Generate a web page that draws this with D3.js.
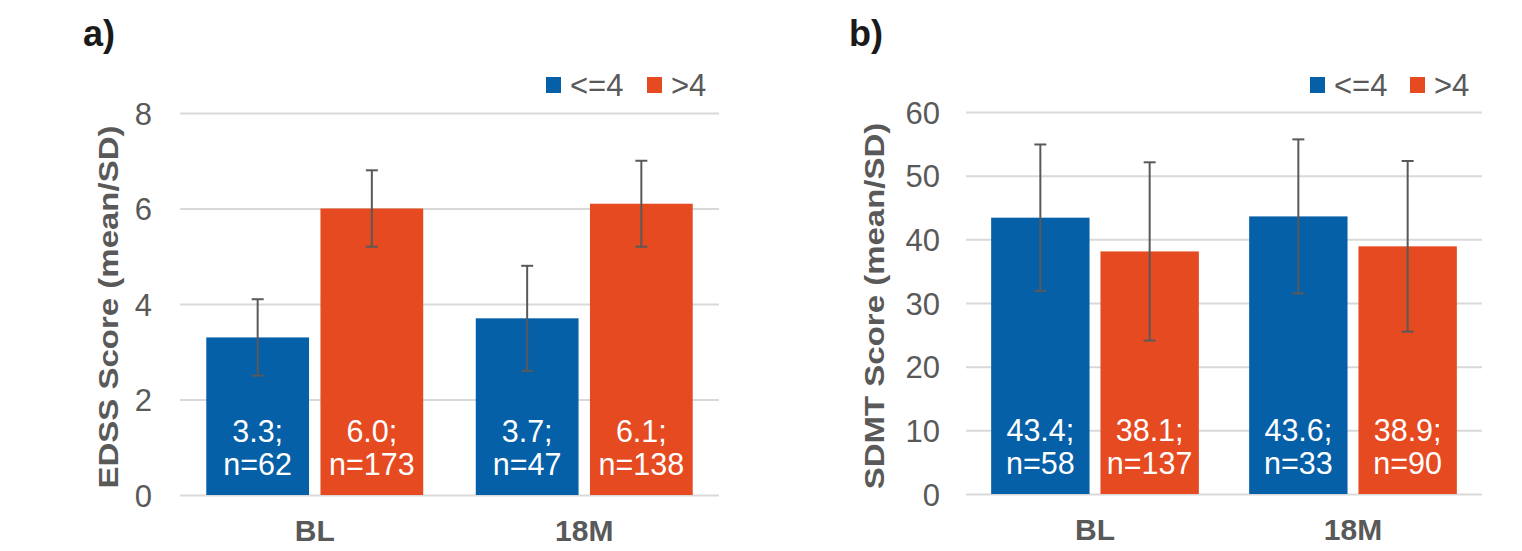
<!DOCTYPE html>
<html>
<head>
<meta charset="utf-8">
<script src="https://cdn.jsdelivr.net/npm/d3@7"></script>
<style>
  html, body { margin: 0; padding: 0; background: #fff; }
  svg { display: block; }
</style>
</head>
<body>
<div id="chart"></div>
<script>
// Data
var categories = ["BL", "18M"];
var seriesNames = ["<=4", ">4"];
var seriesColours = ["#0560a8", "#e64a21"];

var edssMean = [[3.3, 6.0], [3.7, 6.1]];     // [category][series]
var edssSD = [[0.8, 0.8], [1.1, 0.9]];
var edssN = [[62, 173], [47, 138]];
var edssTicks = [0, 2, 4, 6, 8];

var sdmtMean = [[43.4, 38.1], [43.6, 38.9]];
var sdmtSD = [[11.5, 14.0], [12.1, 13.4]];
var sdmtN = [[58, 137], [33, 90]];
var sdmtTicks = [0, 10, 20, 30, 40, 50, 60];

var FONT = "'Liberation Sans', Arial, sans-serif";
var GREY = "#595959";

var svg = d3.select("#chart").append("svg")
  .attr("width", 1522).attr("height", 551);

function drawPanel(opt) {
  var left = opt.left, right = opt.right, top = opt.top, bottom = opt.bottom;
  var g = svg.append("g");

  var x = d3.scaleBand().domain(categories).range([left, right])
    .paddingInner(0.195).paddingOuter(0.0975);
  var xSub = d3.scaleBand().domain(seriesNames).range([0, x.bandwidth()])
    .paddingInner(0.1).paddingOuter(0);
  var y = d3.scaleLinear().domain([0, opt.ticks[opt.ticks.length - 1]]).range([bottom, top]);

  // gridlines + tick labels
  var yAxis = d3.axisLeft(y).tickValues(opt.ticks).tickSize(0).tickPadding(0);
  g.append("g")
    .attr("transform", "translate(" + left + ",0)")
    .call(yAxis)
    .call(function (gg) { gg.select(".domain").remove(); })
    .call(function (gg) {
      gg.selectAll(".tick line").attr("x2", right - left).attr("stroke", "#d9d9d9").attr("stroke-width", 2);
      gg.selectAll(".tick text").attr("x", opt.tickX - left).attr("dy", "0.36em")
        .attr("font-family", FONT).attr("font-size", 31).attr("fill", GREY);
    });

  var rows = [];
  categories.forEach(function (c, i) {
    seriesNames.forEach(function (s, j) {
      rows.push({ cat: c, ser: s, j: j, mean: opt.mean[i][j], sd: opt.sd[i][j], n: opt.n[i][j] });
    });
  });

  function cx(d) { return x(d.cat) + xSub(d.ser) + xSub.bandwidth() / 2; }

  // bars
  g.selectAll(".bar").data(rows).join("rect")
    .attr("class", "bar")
    .attr("x", function (d) { return x(d.cat) + xSub(d.ser); })
    .attr("width", xSub.bandwidth())
    .attr("y", function (d) { return y(d.mean); })
    .attr("height", function (d) { return y(0) - y(d.mean); })
    .attr("fill", function (d) { return seriesColours[d.j]; });

  // error bars
  var cap = 6;
  var eb = g.selectAll(".err").data(rows).join("g").attr("class", "err")
    .attr("stroke", GREY).attr("stroke-width", 2);
  eb.append("line")
    .attr("x1", cx).attr("x2", cx)
    .attr("y1", function (d) { return y(d.mean - d.sd); })
    .attr("y2", function (d) { return y(d.mean + d.sd); });
  [-1, 1].forEach(function (sgn) {
    eb.append("line")
      .attr("x1", function (d) { return cx(d) - cap; })
      .attr("x2", function (d) { return cx(d) + cap; })
      .attr("y1", function (d) { return y(d.mean + sgn * d.sd); })
      .attr("y2", function (d) { return y(d.mean + sgn * d.sd); });
  });

  // value labels (two lines inside the bar)
  g.selectAll(".val1").data(rows).join("text").attr("class", "val1")
    .attr("x", cx).attr("y", bottom - 53)
    .attr("text-anchor", "middle").attr("font-family", FONT).attr("font-size", 30.5).attr("fill", "#fff")
    .text(function (d) { return d.mean.toFixed(1) + ";"; });
  g.selectAll(".val2").data(rows).join("text").attr("class", "val2")
    .attr("x", cx).attr("y", bottom - 20)
    .attr("text-anchor", "middle").attr("font-family", FONT).attr("font-size", 30.5).attr("fill", "#fff")
    .text(function (d) { return "n=" + d.n; });

  // category labels
  g.selectAll(".cat").data(categories).join("text").attr("class", "cat")
    .attr("x", function (d) { return x(d) + x.bandwidth() / 2; })
    .attr("y", bottom + 46)
    .attr("text-anchor", "middle").attr("font-family", FONT).attr("font-weight", 700)
    .attr("font-size", 30).attr("fill", GREY)
    .text(function (d) { return d; });

  // y title
  g.append("text")
    .attr("transform", "translate(" + opt.titleX + "," + ((top + bottom) / 2 + 3) + ") rotate(-90) scale(1,0.85)")
    .attr("text-anchor", "middle").attr("font-family", FONT).attr("font-weight", 700)
    .attr("font-size", 33).attr("fill", GREY)
    .text(opt.title);

  // panel letter
  g.append("text").attr("x", opt.letterX).attr("y", 46)
    .attr("font-family", FONT).attr("font-weight", 700).attr("font-size", 36).attr("fill", "#1a1a1a")
    .text(opt.letter);

  // legend
  var lg = g.selectAll(".leg").data(seriesNames).join("g").attr("class", "leg")
    .attr("transform", function (d, i) { return "translate(" + opt.legendX[i] + ",77)"; });
  lg.append("rect").attr("width", 15).attr("height", 16)
    .attr("fill", function (d, i) { return seriesColours[i]; });
  lg.append("text").attr("x", 24).attr("y", 19)
    .attr("font-family", FONT).attr("font-size", 31).attr("fill", GREY)
    .text(function (d) { return d; });
}

drawPanel({
  left: 180, right: 719, top: 113, bottom: 495,
  ticks: edssTicks, mean: edssMean, sd: edssSD, n: edssN,
  tickX: 152, titleX: 118, title: "EDSS Score (mean/SD)",
  letter: "a)", letterX: 83, legendX: [546, 647]
});

drawPanel({
  left: 966, right: 1482, top: 112, bottom: 494,
  ticks: sdmtTicks, mean: sdmtMean, sd: sdmtSD, n: sdmtN,
  tickX: 940, titleX: 884, title: "SDMT Score (mean/SD)",
  letter: "b)", letterX: 849, legendX: [1310, 1410]
});
</script>
</body>
</html>
